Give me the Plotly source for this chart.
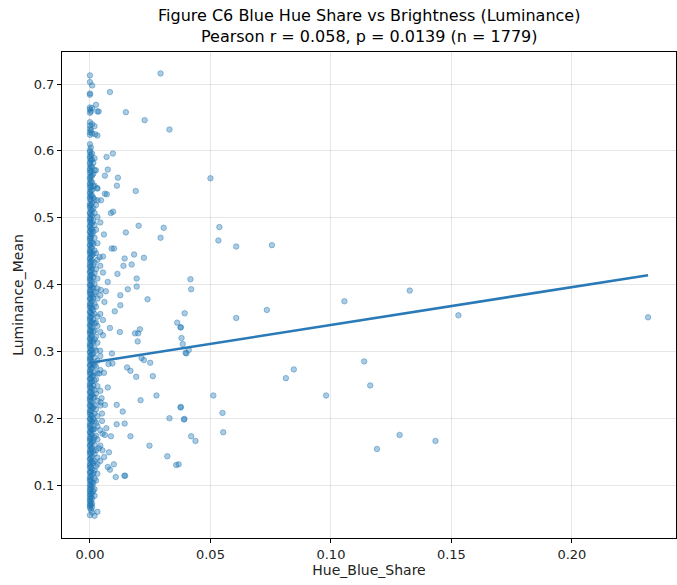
import plotly.graph_objects as go

# ---- data ----
# dense column at Hue_Blue_Share ~ 0
col_x0 = 0.0
col_y0 = [0.713, 0.703, 0.686, 0.684, 0.665, 0.662, 0.657, 0.643, 0.638, 0.633, 0.628, 0.624, 0.610,
          0.601, 0.598, 0.592, 0.589, 0.583, 0.580, 0.574, 0.571, 0.567, 0.561, 0.558, 0.552, 0.549,
          0.545, 0.539, 0.536, 0.531, 0.528, 0.521, 0.518, 0.515, 0.508, 0.506, 0.500, 0.497, 0.494,
          0.488, 0.486, 0.480, 0.478, 0.472, 0.469, 0.466, 0.460, 0.458, 0.452, 0.449, 0.446, 0.440,
          0.438, 0.433, 0.429, 0.426, 0.420, 0.418, 0.412, 0.409, 0.406, 0.400, 0.398, 0.392, 0.389,
          0.386, 0.380, 0.378, 0.372, 0.369, 0.366, 0.360, 0.358, 0.352, 0.349, 0.346, 0.340, 0.338,
          0.332, 0.329, 0.326, 0.320, 0.318, 0.312, 0.309, 0.306, 0.300, 0.298, 0.292, 0.289, 0.286,
          0.280, 0.278, 0.272, 0.269, 0.266, 0.260, 0.258, 0.252, 0.249, 0.246, 0.240, 0.238, 0.232,
          0.229, 0.226, 0.220, 0.218, 0.212, 0.209, 0.206, 0.200, 0.198, 0.192, 0.189, 0.186, 0.180,
          0.178, 0.172, 0.169, 0.166, 0.160, 0.158, 0.152, 0.149, 0.146, 0.140, 0.138, 0.132, 0.129,
          0.126, 0.120, 0.118, 0.112, 0.109, 0.106, 0.101, 0.097, 0.093, 0.090, 0.086, 0.083, 0.079,
          0.076, 0.072, 0.069, 0.066, 0.055]
col_xa = 0.0004
col_ya = [0.659, 0.631, 0.605, 0.594, 0.586, 0.577, 0.569, 0.562, 0.555, 0.547, 0.541, 0.533, 0.526,
          0.519, 0.512, 0.504, 0.498, 0.491, 0.483, 0.476, 0.470, 0.463, 0.455, 0.448, 0.442, 0.435,
          0.427, 0.421, 0.414, 0.407, 0.399, 0.393, 0.386, 0.379, 0.371, 0.365, 0.357, 0.351, 0.343,
          0.337, 0.330, 0.323, 0.316, 0.309, 0.302, 0.295, 0.288, 0.281, 0.274, 0.267, 0.260, 0.253,
          0.246, 0.239, 0.232, 0.225, 0.218, 0.211, 0.204, 0.197, 0.190, 0.183, 0.176, 0.169, 0.162,
          0.155, 0.148, 0.141, 0.134, 0.127, 0.120, 0.113, 0.107, 0.100, 0.094, 0.087, 0.081, 0.075,
          0.070, 0.063]
col_x1 = 0.0009
col_y1 = [0.698, 0.664, 0.640, 0.626, 0.596, 0.587, 0.576, 0.563, 0.553, 0.541, 0.533, 0.522, 0.511,
          0.503, 0.492, 0.483, 0.475, 0.463, 0.455, 0.444, 0.436, 0.424, 0.415, 0.404, 0.396, 0.384,
          0.375, 0.364, 0.355, 0.344, 0.335, 0.323, 0.315, 0.303, 0.295, 0.284, 0.275, 0.263, 0.255,
          0.244, 0.235, 0.223, 0.215, 0.204, 0.195, 0.183, 0.175, 0.164, 0.155, 0.143, 0.135, 0.124,
          0.115, 0.104, 0.098, 0.088, 0.080, 0.072, 0.067, 0.059]
col_xb = 0.0014
col_yb = [0.582, 0.566, 0.547, 0.530, 0.514, 0.495, 0.479, 0.461, 0.446, 0.429, 0.411, 0.395,
          0.380, 0.362, 0.347, 0.330, 0.314, 0.297, 0.281, 0.264, 0.249, 0.232, 0.216, 0.199,
          0.183, 0.167, 0.151, 0.133, 0.118, 0.103, 0.091]
col_x2 = 0.0019
col_y2 = [0.637, 0.589, 0.571, 0.548, 0.527, 0.507, 0.489, 0.470, 0.451, 0.433, 0.417, 0.401, 0.386,
          0.371, 0.356, 0.342, 0.331, 0.318, 0.305, 0.291, 0.279, 0.268, 0.256, 0.242, 0.231, 0.219,
          0.207, 0.196, 0.184, 0.171, 0.160, 0.147, 0.136, 0.122, 0.110, 0.094, 0.084, 0.054]
col_xc = 0.0025
col_yc = [0.571, 0.519, 0.482, 0.447, 0.423, 0.389, 0.367, 0.343, 0.322, 0.301, 0.277, 0.258,
          0.237, 0.213, 0.193, 0.174, 0.152, 0.128, 0.107]
col_x3 = 0.0031
col_y3 = [0.659, 0.623, 0.544, 0.526, 0.501, 0.462, 0.437, 0.409, 0.394, 0.379, 0.352, 0.338,
          0.313, 0.286, 0.267, 0.248, 0.226, 0.203, 0.188, 0.168, 0.141, 0.131, 0.117, 0.060]
col_xd = 0.0043
col_yd = [0.493, 0.428, 0.384, 0.356, 0.329, 0.293, 0.272, 0.241, 0.219, 0.182, 0.159, 0.136]

# scattered points away from the column
out_x = [0.0293, 0.0083, 0.0025, 0.0149, 0.0227, 0.0330, 0.0036, 0.0022, 0.0069, 0.0095,
         0.0074, 0.0062, 0.0116, 0.0112, 0.0190, 0.0030, 0.0062, 0.0070, 0.0046, 0.0096,
         0.0087, 0.0202, 0.0306, 0.0293, 0.0149, 0.0058, 0.0090, 0.0100, 0.0054, 0.0183,
         0.0144, 0.0224, 0.0139, 0.0173, 0.0054, 0.0114, 0.0194, 0.0194, 0.0074, 0.0157,
         0.0066, 0.0239, 0.0126, 0.0126, 0.0103, 0.0060, 0.0054, 0.0083, 0.0124, 0.0207,
         0.0200, 0.0187, 0.0198, 0.0054, 0.0362, 0.0376, 0.0380, 0.0397, 0.0091, 0.0154,
         0.0168, 0.0214, 0.0224, 0.0250, 0.0192, 0.0261, 0.0058, 0.0077, 0.0093, 0.0039,
         0.0074, 0.0276, 0.0210, 0.0111, 0.0136, 0.0062, 0.0044, 0.0050, 0.0050, 0.0376,
         0.0330, 0.0390, 0.0111, 0.0144, 0.0068, 0.0052, 0.0087, 0.0062, 0.0168, 0.0247,
         0.0037, 0.0052, 0.0079, 0.0059, 0.0321, 0.0358, 0.0074, 0.0083, 0.0099, 0.0107,
         0.0143, 0.0146, 0.0500, 0.0537, 0.0533, 0.0607, 0.0755, 0.0417, 0.0420, 0.1327,
         0.1056, 0.0393, 0.0377, 0.0385, 0.0400, 0.0410, 0.0607, 0.0734, 0.0512, 0.0550,
         0.0553, 0.0377, 0.0392, 0.0420, 0.0438, 0.0368, 0.0813, 0.0846, 0.0980, 0.1138,
         0.1163, 0.1191, 0.1285, 0.1529, 0.2316, 0.1434, 0.0040, 0.0045, 0.0042, 0.0048]
out_y = [0.716, 0.688, 0.669, 0.658, 0.646, 0.632, 0.659, 0.625, 0.591, 0.596,
         0.572, 0.563, 0.560, 0.548, 0.540, 0.544, 0.536, 0.535, 0.526, 0.509,
         0.507, 0.488, 0.485, 0.470, 0.478, 0.475, 0.454, 0.454, 0.442, 0.445,
         0.439, 0.440, 0.428, 0.430, 0.418, 0.416, 0.409, 0.397, 0.404, 0.393,
         0.390, 0.378, 0.384, 0.369, 0.360, 0.374, 0.347, 0.335, 0.329, 0.333,
         0.327, 0.327, 0.315, 0.324, 0.343, 0.336, 0.320, 0.298, 0.297, 0.276,
         0.271, 0.290, 0.287, 0.283, 0.262, 0.263, 0.268, 0.281, 0.282, 0.267,
         0.246, 0.234, 0.227, 0.220, 0.210, 0.220, 0.224, 0.207, 0.196, 0.216,
         0.200, 0.198, 0.191, 0.192, 0.185, 0.177, 0.173, 0.175, 0.173, 0.159,
         0.155, 0.152, 0.149, 0.142, 0.143, 0.130, 0.127, 0.123, 0.131, 0.112,
         0.114, 0.114, 0.559, 0.486, 0.466, 0.457, 0.459, 0.408, 0.393, 0.391,
         0.375, 0.357, 0.336, 0.311, 0.297, 0.302, 0.350, 0.362, 0.234, 0.208,
         0.179, 0.217, 0.199, 0.173, 0.166, 0.131, 0.260, 0.273, 0.234, 0.285,
         0.249, 0.154, 0.175, 0.354, 0.351, 0.166, 0.441, 0.392, 0.301, 0.230]

# fitted regression line endpoints
fit_x = [0.0, 0.2316]
fit_y = [0.283, 0.414]

title_text = ("Figure C6 Blue Hue Share vs Brightness (Luminance)<br>"
              "Pearson r = 0.058, p = 0.0139 (n = 1779)")
x_ticks = [0.0, 0.05, 0.10, 0.15, 0.20]
y_ticks = [0.1, 0.2, 0.3, 0.4, 0.5, 0.6, 0.7]

# ---- assemble ----
xs, ys = [], []
for cx, cy in [(col_x0, col_y0), (col_xa, col_ya), (col_x1, col_y1), (col_xb, col_yb),
               (col_x2, col_y2), (col_xc, col_yc), (col_x3, col_y3), (col_xd, col_yd)]:
    xs += [cx] * len(cy)
    ys += cy
xs += out_x
ys += out_y

blue = "31,119,180"
fig = go.Figure()
fig.add_trace(go.Scatter(
    x=xs, y=ys, mode="markers",
    marker=dict(size=5.5, color=f"rgba({blue},0.38)",
                line=dict(color=f"rgba({blue},0.42)", width=1)),
    showlegend=False, hoverinfo="skip"))
fig.add_trace(go.Scatter(
    x=fit_x, y=fit_y, mode="lines",
    line=dict(color="#2a7ab8", width=2.6), showlegend=False))

font = "DejaVu Sans, Liberation Sans, sans-serif"
axis_common = dict(showline=True, linecolor="black", linewidth=1, mirror=True,
                   ticks="outside", ticklen=4, tickcolor="black",
                   showgrid=True, gridcolor="rgba(200,200,200,0.45)", gridwidth=1,
                   zeroline=False, tickfont=dict(size=13, color="#222", family=font))
fig.update_layout(
    width=677, height=585,
    margin=dict(l=62, r=1, t=52, b=47),
    paper_bgcolor="white", plot_bgcolor="white",
    font=dict(family=font, color="#222"),
    xaxis=dict(range=[-0.0116, 0.2432], tickvals=x_ticks, tickformat=".2f",
               title=dict(text="Hue_Blue_Share", font=dict(size=14, family=font), standoff=4),
               **axis_common),
    yaxis=dict(range=[0.0208, 0.748], tickvals=y_ticks, tickformat=".1f",
               title=dict(text="Luminance_Mean", font=dict(size=14, family=font), standoff=6),
               **axis_common),
)
fig.add_annotation(text=title_text, xref="paper", yref="paper", x=0.5, y=1,
                   xanchor="center", yanchor="bottom", yshift=4, showarrow=False,
                   align="center", font=dict(size=16, color="black", family=font))
fig.write_html("out.html")
